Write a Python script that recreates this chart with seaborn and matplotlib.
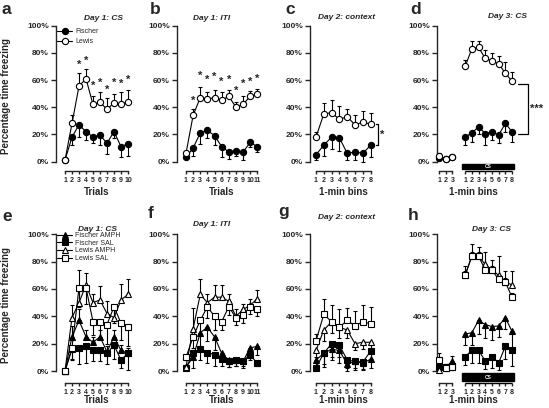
import numpy as np
import seaborn as sns
import matplotlib.pyplot as plt
from matplotlib.patches import Rectangle
from matplotlib.ticker import PercentFormatter

W, H = 549, 408

# x values
trials_cs = np.arange(1, 11)
trials_iti = np.arange(1, 12)
bins_ctx = np.arange(1, 9)
bins_pre = np.arange(1, 4)
bins_cs = np.arange(1, 9)
cs_pos = bins_cs + 3.9          # where the CS bins sit on panel d/h axis

# ---- top row: strains (mean % freezing and SEM) ----
a_fischer = [1, 18, 27, 22, 18, 19.5, 13.5, 22, 11, 13]
a_fischer_err = [0, 6, 9, 6.5, 4.5, 7.5, 8, 5, 8, 9]
a_lewis = [1, 28, 55.5, 61, 42, 43.5, 38.5, 43, 42, 44]
a_lewis_err = [0, 6, 9.5, 7, 6, 8, 8, 6.5, 9.5, 8.5]
a_star_trials = [3, 4, 5, 6, 7, 8, 9, 10]
a_star_y = [71, 74, 56, 58, 53, 58, 57, 60]

b_fischer = [3, 10, 21, 23, 19, 11, 7, 8, 7, 14, 11]
b_fischer_err = [0, 6, 8, 6, 7, 8, 5, 4, 6, 3, 4]
b_lewis = [6, 34, 47, 46, 47, 45, 48, 40, 42, 48, 49.5]
b_lewis_err = [0, 5, 8, 5, 6, 6, 5, 4, 6, 4, 4]
b_star_trials = [2, 3, 4, 5, 6, 7, 8, 9, 10, 11]
b_star_y = [45, 63, 60, 62, 59, 60, 52, 57, 59, 61]

c_fischer = [5, 12, 18, 17.5, 6, 7, 6, 12]
c_fischer_err = [4, 8, 9, 10, 5, 6, 6, 9]
c_lewis = [18, 35, 36, 31, 33, 27, 29, 27.5]
c_lewis_err = [4, 8, 9, 10, 6, 7, 8, 8]

d_pre_fischer = [2.5, 2, 3]
d_pre_fischer_err = [1, 1, 1]
d_pre_lewis = [4, 2, 3]
d_pre_lewis_err = [2, 1, 2]
d_cs_fischer = [18, 21, 25.5, 20.5, 22, 19.5, 28, 22]
d_cs_fischer_err = [6, 7, 5, 8, 6, 6, 6, 8]
d_cs_lewis = [70, 83, 84, 76, 74, 72, 65, 59]
d_cs_lewis_err = [5, 6, 5, 6, 6, 6, 8, 7]

# ---- bottom row: strain x drug ----
e_fa = [0, 25, 37, 25, 21, 25, 14, 25, 15, 13]
e_fa_err = [0, 8, 8, 5, 4, 5, 4, 5, 4, 4]
e_fs = [0, 16, 17, 18, 15, 15, 13, 19, 8, 13]
e_fs_err = [0, 8, 12, 12, 8, 8, 8, 10, 6, 12]
e_la = [0, 39, 50, 63, 50, 52, 42, 39, 52, 56]
e_la_err = [0, 9, 24, 9, 6, 10, 9, 6, 12, 11]
e_ls = [0, 17, 61, 61, 36, 36, 34, 47, 35, 32]
e_ls_err = [0, 8, 14, 12, 10, 12, 14, 12, 12, 14]

f_fa = [3, 10, 28, 32, 25, 13, 8, 8, 7, 17, 18]
f_fa_err = [2, 8, 10, 10, 10, 6, 5, 4, 5, 4, 6]
f_fs = [2, 13, 16, 13.5, 12, 9, 7, 8, 7.5, 12, 5.5]
f_fs_err = [1, 4, 8, 8, 8, 5, 4, 4, 4, 4, 2]
f_la = [3, 31, 56, 50, 54, 54, 51, 40, 45, 48, 53]
f_la_err = [1, 15, 11, 6, 9, 9, 5, 5, 4, 5, 6]
f_ls = [10, 25, 37, 47, 40, 36, 47, 39, 41, 47, 45]
f_ls_err = [2, 8, 10, 8, 10, 6, 6, 5, 6, 5, 5]

g_fa = [8, 13, 16, 15, 5, 7, 6, 8.5]
g_fa_err = [4, 8, 8, 9, 5, 5, 5, 6]
g_fs = [2.5, 13, 20, 19, 8, 7, 6.5, 14.5]
g_fs_err = [2, 10, 10, 9, 6, 6, 5, 7]
g_la = [15, 30, 36, 32, 30, 20, 21, 21]
g_la_err = [5, 8, 8, 8, 6, 5, 5, 5]
g_ls = [22, 41.5, 36, 32, 37, 33, 36, 34.5]
g_ls_err = [5, 11, 12, 13, 9, 11, 12, 12]

h_pre_fa = [4, 3, 7]
h_pre_fa_err = [3, 2, 4]
h_pre_fs = [3, 3, 4]
h_pre_fs_err = [2, 2, 2]
h_pre_la = [1, 2, 3]
h_pre_la_err = [1, 1, 1]
h_pre_ls = [8, 2, 3]
h_pre_ls_err = [5, 3, 2]
h_cs_fa = [27, 28, 37, 34, 32.5, 33, 39, 29]
h_cs_fa_err = [8, 9, 10, 10, 10, 8, 8, 12]
h_cs_fs = [10.5, 15, 15, 7.5, 10.5, 6, 18, 15]
h_cs_fs_err = [6, 9, 9, 6, 8, 5, 9, 11]
h_cs_la = [70, 84, 84, 78, 74, 70, 65, 63]
h_cs_la_err = [7, 9, 7, 9, 7, 14, 8, 10]
h_cs_ls = [70, 84, 84, 74, 74, 67, 65, 54]
h_cs_ls_err = [3, 3, 3, 3, 3, 3, 3, 3]

sns.set_style('ticks')
plt.rcParams['font.family'] = ['Liberation Sans', 'DejaVu Sans']
plt.rcParams['font.weight'] = 'bold'

fig = plt.figure(figsize=(W / 100, H / 100), dpi=100)


def fx(px):
    return px / W


def fy(py):
    return 1 - py / H


# rows: pixel of 0 %, pixels per %, x spine position (data)
rows = {'top': (161.5, 1.358, -6.8, -14.0, -22.2),
        'bot': (371.0, 1.367, -8.6, -15.6, -21.2)}


def make_ax(L, T1, S, xmax, row):
    zero, scale, spine_y, _, _ = rows[row]
    x0 = 1 - (T1 - L) / S
    y0, y1 = -12, 100
    top_px = zero - y1 * scale
    bot_px = zero - y0 * scale
    ax = fig.add_axes([fx(L), fy(bot_px), (xmax - x0) * S / W, (bot_px - top_px) / H])
    ax.set_xlim(x0, xmax)
    ax.set_ylim(y0, y1)
    for s in ['top', 'right']:
        ax.spines[s].set_visible(False)
    for s in ['left', 'bottom']:
        ax.spines[s].set_linewidth(1.0)
    ax.spines['bottom'].set_position(('data', spine_y))
    ax.spines['left'].set_bounds(0, 100)
    ax.set_yticks(np.arange(0, 101, 20))
    ax.yaxis.set_major_formatter(PercentFormatter(xmax=100, decimals=0))
    ax.tick_params(axis='y', length=3.5, width=1.0, pad=1.5, labelsize=6)
    ax.tick_params(axis='x', length=2.4, width=1.0, pad=2, labelsize=5)
    ax.set_xlabel('')
    ax.set_ylabel('')
    return ax


def series(ax, x, y, err, side, marker, filled, label=None):
    y = np.asarray(y, float)
    err = np.asarray(err, float)
    zero = np.zeros_like(err)
    lo = err if side == 'down' else zero
    hi = err if side == 'up' else zero
    ax.errorbar(x, y, yerr=[lo, hi], fmt='none', ecolor='black',
                elinewidth=0.8, capsize=1.6, capthick=0.8, zorder=2, clip_on=False)
    sns.lineplot(x=x, y=y, ax=ax, color='black', linewidth=0.8, marker=marker,
                 markersize=4.5, markerfacecolor='black' if filled else 'white',
                 markeredgecolor='black', markeredgewidth=0.8, label=label,
                 zorder=3, clip_on=False)


def x_axis(ax, x, row, xlabel):
    ax.set_xticks(x)
    ax.set_xticklabels([str(v) for v in x])
    ax.spines['bottom'].set_bounds(x[0], x[-1])
    ax.text(np.mean([x[0], x[-1]]), rows[row][4], xlabel, ha='center', va='center',
            fontsize=7, fontweight='bold')


def split_axis(ax, pre, cs, row):
    spine_y = rows[row][2]
    pos = list(pre) + list(cs)
    ax.set_xticks(pos)
    ax.set_xticklabels([str(v) for v in bins_pre] + [str(v) for v in bins_cs])
    ax.spines['bottom'].set_bounds(pre[0], pre[-1])
    ax.plot([cs[0], cs[-1]], [spine_y, spine_y], color='black', lw=1.0,
            clip_on=False, solid_capstyle='butt')
    bx0, bx1 = cs[0] - 0.45, cs[-1] + 0.35
    btop, bbot = -1.7, spine_y + 1.2
    ax.add_patch(Rectangle((bx0, bbot), bx1 - bx0, btop - bbot, color='black',
                           clip_on=False, zorder=3))
    ax.text((bx0 + bx1) / 2, (btop + bbot) / 2, 'CS', color='white', fontsize=3.5,
            ha='center', va='center', fontweight='bold')
    ax.text(np.mean([cs[0], cs[-1]]) - 2.3, rows[row][4], '1-min bins', ha='center',
            va='center', fontsize=7, fontweight='bold')


def stars(ax, xs, ys):
    for xv, yv in zip(xs, ys):
        ax.text(xv, yv, '*', ha='center', va='center', fontsize=8, fontweight='bold')


# ---------------- top row ----------------
ax_a = make_ax(56, 65, 7.0, 10.6, 'top')
series(ax_a, trials_cs, a_fischer, a_fischer_err, 'down', 'o', True, 'Fischer')
series(ax_a, trials_cs, a_lewis, a_lewis_err, 'up', 'o', False, 'Lewis')
x_axis(ax_a, trials_cs, 'top', 'Trials')
stars(ax_a, a_star_trials, a_star_y)
ax_a.legend(loc='upper left', bbox_to_anchor=(fx(57), fy(28)), bbox_transform=fig.transFigure,
            frameon=False, prop={'size': 5, 'weight': 'normal'}, handlelength=2.2,
            handletextpad=0.4, labelspacing=0.45, borderpad=0, borderaxespad=0)

ax_b = make_ax(177, 186, 7.13, 11.6, 'top')
series(ax_b, trials_iti, b_fischer, b_fischer_err, 'down', 'o', True)
series(ax_b, trials_iti, b_lewis, b_lewis_err, 'up', 'o', False)
x_axis(ax_b, trials_iti, 'top', 'Trials')
stars(ax_b, b_star_trials, b_star_y)

ax_c = make_ax(310, 316, 7.8, 8.6, 'top')
series(ax_c, bins_ctx, c_fischer, c_fischer_err, 'down', 'o', True)
series(ax_c, bins_ctx, c_lewis, c_lewis_err, 'up', 'o', False)
x_axis(ax_c, bins_ctx, 'top', '1-min bins')
xb = 9.0
ax_c.plot([xb - 0.35, xb, xb, xb - 0.35], [c_lewis[-1], c_lewis[-1], c_fischer[-1], c_fischer[-1]],
          color='black', lw=0.9, clip_on=False)
ax_c.text(xb + 0.45, (c_lewis[-1] + c_fischer[-1]) / 2, '*', ha='center', va='center',
          fontsize=8, fontweight='bold')

ax_d = make_ax(437, 439, 6.7, 12.5, 'top')
series(ax_d, bins_pre, d_pre_fischer, d_pre_fischer_err, 'down', 'o', True)
series(ax_d, bins_pre, d_pre_lewis, d_pre_lewis_err, 'up', 'o', False)
series(ax_d, cs_pos, d_cs_fischer, d_cs_fischer_err, 'down', 'o', True)
series(ax_d, cs_pos, d_cs_lewis, d_cs_lewis_err, 'up', 'o', False)
split_axis(ax_d, bins_pre, cs_pos, 'top')
xb0, xb1 = 12.8, 14.3
yl, yf = d_cs_lewis[-1] - 2, d_cs_fischer[-1] - 2
ax_d.plot([xb0, xb1, xb1, xb0], [yl, yl, yf, yf], color='black', lw=0.9, clip_on=False)
ax_d.text(xb1 + 0.25, (yl + yf) / 2, '***', ha='left', va='center', fontsize=8, fontweight='bold')

# ---------------- bottom row ----------------
ax_e = make_ax(56, 65, 7.0, 10.6, 'bot')
series(ax_e, trials_cs, e_fa, e_fa_err, 'up', '^', True, 'Fischer AMPH')
series(ax_e, trials_cs, e_fs, e_fs_err, 'down', 's', True, 'Fischer SAL')
series(ax_e, trials_cs, e_la, e_la_err, 'up', '^', False, 'Lewis AMPH')
series(ax_e, trials_cs, e_ls, e_ls_err, 'down', 's', False, 'Lewis SAL')
x_axis(ax_e, trials_cs, 'bot', 'Trials')
ax_e.legend(loc='upper left', bbox_to_anchor=(fx(57), fy(232)), bbox_transform=fig.transFigure,
            frameon=False, prop={'size': 5, 'weight': 'normal'}, handlelength=2.2,
            handletextpad=0.4, labelspacing=0.1, borderpad=0, borderaxespad=0)

ax_f = make_ax(177, 186, 7.13, 11.6, 'bot')
series(ax_f, trials_iti, f_fa, f_fa_err, 'down', '^', True)
series(ax_f, trials_iti, f_fs, f_fs_err, 'down', 's', True)
series(ax_f, trials_iti, f_la, f_la_err, 'up', '^', False)
series(ax_f, trials_iti, f_ls, f_ls_err, 'down', 's', False)
x_axis(ax_f, trials_iti, 'bot', 'Trials')

ax_g = make_ax(310, 316, 7.8, 8.6, 'bot')
series(ax_g, bins_ctx, g_fa, g_fa_err, 'down', '^', True)
series(ax_g, bins_ctx, g_fs, g_fs_err, 'down', 's', True)
series(ax_g, bins_ctx, g_la, g_la_err, 'down', '^', False)
series(ax_g, bins_ctx, g_ls, g_ls_err, 'up', 's', False)
x_axis(ax_g, bins_ctx, 'bot', '1-min bins')

ax_h = make_ax(437, 439, 6.7, 12.5, 'bot')
series(ax_h, bins_pre, h_pre_fa, h_pre_fa_err, 'up', '^', True)
series(ax_h, bins_pre, h_pre_fs, h_pre_fs_err, 'down', 's', True)
series(ax_h, bins_pre, h_pre_la, h_pre_la_err, 'up', '^', False)
series(ax_h, bins_pre, h_pre_ls, h_pre_ls_err, 'up', 's', False)
series(ax_h, cs_pos, h_cs_fa, h_cs_fa_err, 'down', '^', True)
series(ax_h, cs_pos, h_cs_fs, h_cs_fs_err, 'down', 's', True)
series(ax_h, cs_pos, h_cs_la, h_cs_la_err, 'up', '^', False)
series(ax_h, cs_pos, h_cs_ls, h_cs_ls_err, 'up', 's', False)
split_axis(ax_h, bins_pre, cs_pos, 'bot')

for ax in [ax_b, ax_c, ax_d, ax_f, ax_g, ax_h]:
    if ax.get_legend() is not None:
        ax.get_legend().remove()

# titles, panel letters, y labels
titles = [('Day 1: CS', 103, 19.5), ('Day 1: ITI', 212, 20), ('Day 2: context', 347, 19),
          ('Day 3: CS', 507, 18), ('Day 1: CS', 97, 231), ('Day 1: ITI', 212, 226),
          ('Day 2: context', 347, 219), ('Day 3: CS', 492, 231)]
for t, x, y in titles:
    fig.text(fx(x), fy(y), t, ha='center', va='baseline', fontsize=6,
             fontweight='bold', fontstyle='italic')

letters = [('a', 2, 13.5), ('b', 150, 14), ('c', 285, 13.5), ('d', 410, 13.5),
           ('e', 2, 221), ('f', 148, 218), ('g', 278, 216), ('h', 408, 220)]
for t, x, y in letters:
    fig.text(fx(x), fy(y), t, ha='left', va='baseline', fontsize=12.5, fontweight='bold')

for yc in [96, 305]:
    fig.text(fx(6.5), fy(yc), 'Percentage time freezing', rotation=90, ha='center',
             va='center', fontsize=7, fontweight='bold')

fig.savefig('out.png', dpi=100)
